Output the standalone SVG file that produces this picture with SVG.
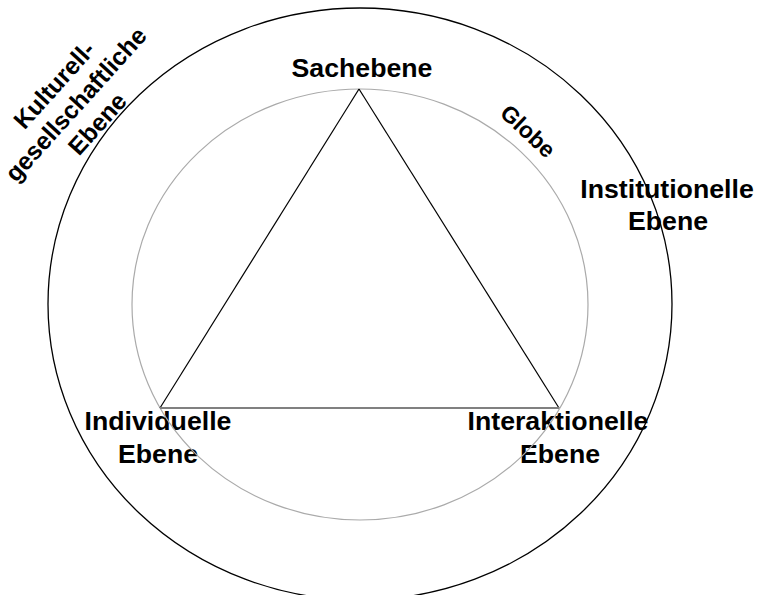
<svg xmlns="http://www.w3.org/2000/svg" width="760" height="595" viewBox="0 0 760 595">
<style>
.lbl{font-family:"Liberation Sans",Arial,Helvetica,sans-serif;font-weight:bold;fill:#000;text-anchor:middle}
.big{font-size:26.7px}
.rot{font-size:24.5px}
.glb{font-size:23px}
</style>
<rect width="760" height="595" fill="#fff"/>
<g id="labels">
<g id="sachebene"><text class="lbl big" x="362" y="77">Sachebene</text></g>
<g id="institutionelle"><text class="lbl big" x="667" y="198">Institutionelle</text><text class="lbl big" x="668" y="230">Ebene</text></g>
<g id="individuelle"><text class="lbl big" x="158" y="430">Individuelle</text><text class="lbl big" x="158" y="463">Ebene</text></g>
<g id="interaktionelle"><text class="lbl big" x="558" y="430">Interaktionelle</text><text class="lbl big" x="560" y="463">Ebene</text></g>
<g id="kulturell" transform="translate(82,110) rotate(-48)"><text class="lbl rot" x="0" y="-29">Kulturell-</text><text class="lbl rot" x="0" y="0">gesellschaftliche</text><text class="lbl rot" x="0" y="29">Ebene</text></g>
<g id="globe-label" transform="translate(522.5,137) rotate(43)"><text class="lbl glb" x="0" y="0">Globe</text></g>
</g>
<g id="shapes" fill="none">
<ellipse id="outer" cx="360" cy="304" rx="312" ry="296" stroke="#000" stroke-width="1.3"/>
<ellipse id="globe" cx="360" cy="304.5" rx="228" ry="215.5" stroke="#aaa" stroke-width="1.2"/>
</g>
<g id="connectors" fill="none">
<line x1="359" y1="89" x2="160" y2="408" stroke="#000" stroke-width="1.2"/>
<line x1="359" y1="89" x2="559" y2="408" stroke="#000" stroke-width="1.2"/>
<line x1="160" y1="408" x2="559" y2="408" stroke="#808080" stroke-width="2"/>
</g>
</svg>
